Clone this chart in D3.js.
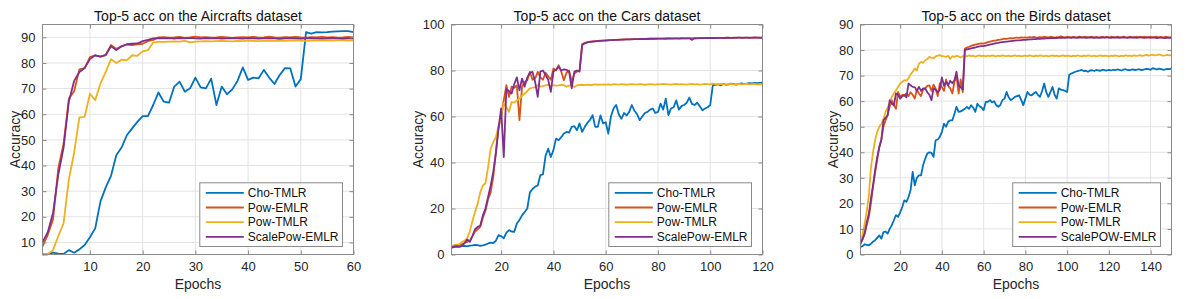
<!DOCTYPE html>
<html>
<head>
<meta charset="utf-8">
<script src="https://cdn.jsdelivr.net/npm/d3@7"></script>
<style>
  body { margin: 0; background: #fff; }
  svg { font-family: "Liberation Sans", Arial, Helvetica, sans-serif; }
</style>
</head>
<body>
<svg width="1196" height="299"></svg>
<script>
// series names + colours (matlab default order)
var seriesNames = ["Cho-TMLR", "Pow-EMLR", "Pow-TMLR", "ScalePow-EMLR"];
var seriesNamesBirds = ["Cho-TMLR", "Pow-EMLR", "Pow-TMLR", "ScalePOW-EMLR"];
var colors = ["#0072BD", "#D95319", "#EDB120", "#7E2F8E"];

// ---- Aircrafts, 60 epochs
var choAir = [
  5.3,5.4,6.0,5.6,5.5,7.0,6.0,7.3,9.0,12.0,
  15.5,26.0,31.5,36.0,44.0,47.0,51.8,54.5,57.0,59.3,
  59.3,63.6,68.5,64.9,64.5,70.8,72.7,68.8,70.1,74.3,
  70.5,70.1,73.9,63.6,70.8,67.8,69.7,73.0,78.3,73.4,
  74.3,74.0,77.3,74.3,71.8,75.3,78.0,77.9,70.8,73.7,
  92.0,91.4,92.0,91.9,92.0,92.2,92.3,92.4,92.4,92.0];
var powEAir = [
  8.5,13.0,19.0,39.0,48.5,66.0,69.0,77.5,78.0,82.3,
  83.0,82.5,83.0,87.0,85.5,86.5,87.2,87.0,87.3,87.5,
  88.5,89.0,90.0,90.1,89.9,90.0,90.2,89.8,90.0,90.3,
  90.0,90.1,89.9,90.0,90.2,90.0,89.8,90.0,90.1,90.0,
  90.2,89.9,90.0,90.3,90.0,89.9,90.1,90.0,90.2,90.0,
  89.9,90.1,90.0,90.2,90.0,90.1,89.9,90.0,90.2,90.0];
var powTAir = [
  5.3,5.5,7.0,12.5,17.5,34.5,45.0,58.8,59.0,68.0,
  65.5,72.0,76.5,81.5,80.0,81.3,81.0,83.0,82.8,84.5,
  85.0,88.0,88.2,88.2,88.3,88.4,88.3,88.6,88.0,88.3,
  88.4,88.5,88.4,88.5,88.6,88.5,88.4,88.6,88.5,88.7,
  88.6,88.5,88.6,88.7,88.6,88.7,88.6,88.7,88.8,88.7,
  88.6,88.7,88.8,88.7,88.8,88.7,88.8,88.8,88.7,88.8];
var scaleAir = [
  10.0,14.0,21.5,36.5,47.0,65.0,73.0,76.5,78.0,81.5,
  83.0,82.5,83.2,86.5,85.0,86.5,87.3,87.5,87.6,88.5,
  89.0,89.6,89.7,89.6,89.7,89.5,89.7,89.6,89.8,89.6,
  89.5,89.7,89.6,89.7,89.5,89.6,89.7,89.6,89.5,89.7,
  89.6,89.5,89.6,89.7,89.6,89.4,89.6,89.7,89.6,89.5,
  89.6,89.7,89.6,89.5,89.6,89.7,89.6,89.5,89.6,89.6];

// ---- Cars, 120 epochs
var choCars = [
  3.0,3.2,3.4,3.3,3.6,3.8,3.5,3.9,4.0,4.2,
  4.1,3.8,4.0,4.3,4.8,5.2,5.0,6.0,8.4,8.0,
  7.0,9.5,10.6,10.0,9.8,13.5,15.0,17.0,18.5,20.0,
  27.0,28.5,29.5,30.0,34.5,34.8,43.0,46.0,42.4,45.4,
  50.4,49.7,51.0,52.6,53.3,53.0,55.5,55.8,54.0,57.0,
  53.3,55.5,57.2,58.5,60.6,55.5,55.5,60.5,57.0,57.5,
  52.6,60.0,63.5,65.0,61.0,59.0,61.5,60.5,62.0,65.0,
  62.5,61.0,58.4,60.0,61.5,62.0,63.0,63.5,61.5,62.0,
  65.6,63.0,67.8,60.6,63.5,64.0,67.0,63.0,64.5,65.0,
  66.0,68.2,65.5,65.0,66.0,64.5,62.7,63.5,64.0,65.0,
  73.6,73.8,74.0,73.5,74.2,73.8,74.0,74.3,74.1,73.9,
  74.2,74.4,74.1,74.3,74.5,74.4,74.6,74.5,74.6,74.7];
var powECars = [
  3.5,4.0,4.2,4.3,4.5,5.0,5.5,6.0,8.0,10.0,
  11.0,12.0,16.0,19.0,24.0,27.0,34.0,45.0,55.0,60.0,
  67.0,73.6,68.5,73.0,72.5,73.5,58.4,73.0,75.0,75.8,
  79.4,76.0,76.5,79.4,77.0,76.0,79.0,77.5,76.0,80.9,
  80.0,82.3,79.5,75.8,79.0,80.0,75.0,78.7,79.5,80.0,
  91.5,92.0,92.3,92.5,92.6,92.8,92.9,93.0,93.0,93.1,
  93.2,93.2,93.3,93.3,93.4,93.4,93.5,93.5,93.5,93.6,
  93.6,93.6,93.7,93.7,93.7,93.8,93.8,93.8,93.9,93.9,
  93.9,93.9,94.0,94.0,94.0,93.9,94.0,94.0,94.1,94.0,
  94.0,94.1,94.1,94.0,94.1,94.1,94.2,94.1,94.1,94.2,
  94.2,94.1,94.2,94.2,94.2,94.3,94.2,94.2,94.3,94.2,
  94.3,94.3,94.2,94.3,94.3,94.2,94.3,94.3,94.2,94.3];
var powTCars = [
  3.5,4.0,4.3,4.5,5.5,6.0,7.0,10.0,14.5,18.5,
  22.0,27.0,30.0,31.0,38.0,46.0,49.0,51.0,56.0,60.0,
  65.6,64.0,62.0,66.3,66.0,67.0,67.8,69.0,70.0,71.0,
  72.2,72.5,72.8,73.6,73.0,73.2,73.5,73.8,73.2,73.6,
  73.4,73.5,73.8,73.6,73.0,73.4,73.6,72.8,73.5,73.7,
  73.8,73.6,73.9,73.7,73.8,74.0,73.8,73.9,74.0,73.9,
  74.0,73.8,74.1,74.0,73.9,74.1,74.0,73.8,74.0,74.1,
  74.0,73.9,74.1,74.0,73.8,74.0,74.1,74.0,73.9,74.1,
  74.0,74.2,74.1,74.0,73.9,74.1,74.2,74.0,74.1,74.0,
  73.9,74.1,74.2,74.0,74.1,73.9,74.0,74.2,74.1,74.0,
  74.3,74.1,74.0,74.2,74.1,73.9,74.1,74.2,74.0,74.1,
  74.2,74.0,74.1,74.2,74.0,74.1,74.2,74.0,74.1,74.0];
var scaleCars = [
  3.0,3.5,3.6,3.5,3.8,5.0,6.5,5.5,8.0,11.0,
  12.0,12.5,17.0,20.0,25.0,30.0,36.0,44.0,55.0,63.5,
  42.4,72.0,71.0,70.0,74.0,77.0,71.4,76.5,73.0,77.0,
  79.0,79.4,75.0,68.5,79.5,80.0,78.0,76.0,70.7,79.5,
  80.5,81.6,80.0,80.5,80.3,79.5,72.2,79.5,80.0,79.5,
  91.0,91.8,92.2,92.4,92.6,92.7,92.8,92.9,93.0,93.0,
  93.1,93.2,93.2,93.3,93.3,93.4,93.4,93.5,93.5,93.5,
  93.6,93.6,93.6,93.7,93.7,93.7,93.8,93.8,93.8,93.9,
  93.9,93.9,93.8,94.0,93.9,94.0,94.0,93.9,94.0,94.0,
  94.0,94.0,93.3,94.1,94.0,94.1,94.1,94.1,94.2,94.1,
  94.2,94.1,94.2,94.2,94.1,94.2,94.3,94.2,94.2,94.3,
  94.3,94.2,94.3,94.3,94.2,94.3,94.4,94.3,94.3,94.3];

// ---- Birds, 150 epochs
var choBirds = [
  3.0,3.3,4.0,3.8,3.6,4.2,5.0,5.6,6.5,7.5,
  6.2,8.8,9.0,8.2,10.0,11.5,13.4,15.4,14.7,16.5,
  18.6,21.2,20.6,22.5,25.2,32.3,27.1,30.0,31.0,31.0,
  35.0,37.5,39.5,40.0,39.8,38.2,44.7,45.0,46.0,48.0,
  51.2,50.0,52.0,52.5,52.5,55.0,57.8,55.8,56.0,56.5,
  57.0,57.8,57.0,58.4,57.5,55.8,59.0,58.0,57.5,56.5,
  59.7,59.7,60.4,59.5,60.0,58.5,57.8,58.5,60.4,61.0,
  63.6,61.5,60.4,61.0,61.7,62.0,62.3,60.5,58.4,61.0,
  63.6,62.5,62.3,63.0,63.6,62.5,61.7,64.0,66.9,63.5,
  61.7,63.5,65.6,62.5,61.0,65.0,64.5,64.3,64.0,63.6,
  70.3,70.8,71.2,71.5,71.8,72.0,72.2,71.8,71.9,71.5,
  72.0,72.1,71.8,72.2,72.0,71.9,72.3,72.1,72.0,72.2,
  72.0,72.3,72.1,72.4,72.2,72.0,72.3,72.5,72.2,72.1,
  72.4,72.3,72.2,72.5,72.3,72.2,72.4,72.6,72.5,72.3,
  72.9,72.6,72.4,72.7,72.5,72.3,72.4,72.6,72.5,72.8];
var powEBirds = [
  4.0,6.0,8.0,11.5,14.7,20.0,26.5,32.0,37.0,42.0,
  45.0,50.0,52.5,54.5,58.0,60.4,58.4,57.0,63.6,61.7,
  62.5,62.3,63.0,62.0,63.5,62.5,61.0,64.5,63.0,62.0,
  64.5,65.0,66.0,66.2,64.0,66.5,65.0,62.0,67.0,65.5,
  64.0,68.5,66.0,65.0,63.0,67.5,70.0,63.0,68.5,63.5,
  80.5,81.0,81.3,81.6,81.9,82.1,82.3,82.5,82.6,82.5,
  82.8,83.1,83.3,83.5,83.7,83.8,84.0,84.1,84.3,84.5,
  84.4,84.6,84.7,84.6,84.8,84.9,84.8,85.0,84.9,85.0,
  84.9,85.1,85.0,85.2,85.0,84.9,85.1,85.0,85.2,85.1,
  85.0,85.2,85.1,84.9,85.1,85.0,85.4,85.1,85.0,85.2,
  85.1,85.0,85.2,85.0,85.1,85.3,85.0,85.1,85.2,85.0,
  85.1,85.2,85.0,85.1,84.9,85.1,85.2,85.0,85.1,85.0,
  85.2,85.1,85.0,85.2,85.1,85.0,85.3,85.1,85.0,85.2,
  85.1,85.0,85.2,85.1,85.0,85.1,85.2,85.0,85.1,85.2,
  85.0,85.1,85.2,85.0,85.1,85.0,85.2,85.1,85.0,85.1];
var powTBirds = [
  3.6,8.0,12.0,17.0,23.0,34.0,40.0,44.7,48.0,50.0,
  51.2,53.0,55.8,57.5,59.0,61.7,63.0,64.3,65.5,66.9,
  67.5,68.2,68.0,68.9,70.5,71.5,72.8,72.0,74.7,75.4,
  75.0,76.0,76.5,77.3,77.0,76.7,77.5,77.8,78.0,77.6,
  77.5,77.3,77.8,76.5,77.6,77.3,77.8,77.5,77.1,77.6,
  77.8,77.5,77.9,77.6,77.8,77.4,77.7,77.9,77.6,77.8,
  77.5,77.8,77.6,77.9,77.7,77.5,77.8,77.6,77.9,77.7,
  77.6,77.8,77.5,77.7,77.9,77.6,77.8,77.5,77.7,77.8,
  77.6,77.9,77.7,77.5,77.8,77.6,77.9,77.7,77.6,77.8,
  77.5,77.7,77.9,77.6,77.8,77.5,77.7,77.9,77.6,77.8,
  77.7,77.5,77.8,77.6,77.9,77.7,77.5,77.8,77.6,77.9,
  77.7,77.6,77.8,77.5,77.7,77.9,77.6,77.8,77.7,77.5,
  77.8,77.6,77.9,77.7,77.5,77.8,77.6,77.9,77.7,77.8,
  77.6,77.9,77.7,77.8,78.0,77.7,77.9,78.1,77.8,78.0,
  78.2,77.9,78.0,78.3,78.0,77.8,77.9,78.1,77.9,78.0];
var scaleBirds = [
  4.5,6.0,8.5,12.5,16.0,22.0,27.0,33.0,38.0,42.0,
  45.0,52.5,53.5,54.5,60.4,59.0,58.4,63.0,62.5,61.0,
  62.0,62.3,61.5,66.9,66.2,65.6,65.5,64.0,65.6,64.0,
  65.0,65.0,63.5,62.5,60.4,65.0,64.5,63.5,64.5,69.3,
  66.0,67.5,66.2,68.0,67.0,68.2,71.5,66.0,65.5,64.5,
  80.1,80.3,80.5,80.7,80.9,81.0,81.2,81.4,81.5,81.5,
  81.7,81.9,82.1,82.3,82.5,82.7,82.8,83.0,83.1,83.2,
  83.3,83.4,83.5,83.6,83.7,83.8,83.8,83.9,84.0,84.0,
  84.1,84.2,84.2,84.3,84.3,84.5,84.4,84.5,84.5,84.6,
  84.6,84.7,84.7,84.8,84.7,84.9,84.8,84.9,84.8,84.9,
  84.9,84.8,85.0,84.9,84.8,85.0,84.9,85.0,84.8,84.9,
  85.0,84.9,84.8,85.0,84.9,84.8,85.0,84.9,85.1,84.9,
  84.8,85.0,84.9,85.0,84.8,84.9,85.0,84.9,84.8,85.0,
  84.9,85.0,84.8,84.9,85.1,84.9,84.8,85.0,84.9,84.8,
  85.0,84.9,84.7,84.9,85.0,84.8,84.7,84.9,84.8,84.8];

// tick values
var airXTicks = [10, 20, 30, 40, 50, 60], airYTicks = [10, 20, 30, 40, 50, 60, 70, 80, 90];
var carsXTicks = [20, 40, 60, 80, 100, 120], carsYTicks = [0, 20, 40, 60, 80, 100];
var birdsXTicks = [20, 40, 60, 80, 100, 120, 140], birdsYTicks = [0, 10, 20, 30, 40, 50, 60, 70, 80, 90];

var svg = d3.select("svg");

var panels = [
  { title: "Top-5 acc on the Aircrafts dataset", left: 42.5, series: [choAir, powEAir, powTAir, scaleAir],
    names: seriesNames, xMax: 60, yDomain: [5.3, 95], xTicks: airXTicks, yTicks: airYTicks, labelX: 15 },
  { title: "Top-5 acc on the Cars dataset", left: 451.5, series: [choCars, powECars, powTCars, scaleCars],
    names: seriesNames, xMax: 120, yDomain: [0, 100], xTicks: carsXTicks, yTicks: carsYTicks, labelX: 418 },
  { title: "Top-5 acc on the Birds dataset", left: 860.5, series: [choBirds, powEBirds, powTBirds, scaleBirds],
    names: seriesNamesBirds, xMax: 150, yDomain: [0, 90], xTicks: birdsXTicks, yTicks: birdsYTicks, labelX: 833 }
];

var plotTop = 24.5, plotH = 230, plotW = 311;

panels.forEach(function(p) {
  var g = svg.append("g").attr("transform", "translate(" + p.left + "," + plotTop + ")");

  var x = d3.scaleLinear().domain([1, p.xMax]).range([0, plotW]);
  var y = d3.scaleLinear().domain(p.yDomain).range([plotH, 0]);

  // grid
  g.append("g").selectAll("line").data(p.xTicks).enter().append("line")
    .attr("x1", function(d) { return x(d); }).attr("x2", function(d) { return x(d); })
    .attr("y1", 0).attr("y2", plotH)
    .attr("stroke", "#e3e3e3").attr("stroke-width", 1);
  g.append("g").selectAll("line").data(p.yTicks).enter().append("line")
    .attr("y1", function(d) { return y(d); }).attr("y2", function(d) { return y(d); })
    .attr("x1", 0).attr("x2", plotW)
    .attr("stroke", "#e3e3e3").attr("stroke-width", 1);

  // lines
  var line = d3.line()
    .x(function(d, i) { return x(i + 1); })
    .y(function(d) { return y(d); });

  p.series.forEach(function(s, k) {
    g.append("path").datum(s)
      .attr("fill", "none")
      .attr("stroke", colors[k])
      .attr("stroke-width", 1.8)
      .attr("stroke-linejoin", "round")
      .attr("d", line);
  });

  // axes, ticks pointing in (matlab style)
  var xAxis = d3.axisBottom(x).tickValues(p.xTicks).tickSizeInner(-4).tickSizeOuter(0).tickPadding(7);
  var yAxis = d3.axisLeft(y).tickValues(p.yTicks).tickSizeInner(-4).tickSizeOuter(0).tickPadding(7);
  var xTop = d3.axisTop(x).tickValues(p.xTicks).tickSizeInner(-4).tickSizeOuter(0).tickFormat("");
  var yRight = d3.axisRight(y).tickValues(p.yTicks).tickSizeInner(-4).tickSizeOuter(0).tickFormat("");

  var gx = g.append("g").attr("transform", "translate(0," + plotH + ")").call(xAxis);
  var gy = g.append("g").call(yAxis);
  g.append("g").call(xTop);
  g.append("g").attr("transform", "translate(" + plotW + ",0)").call(yRight);

  g.selectAll(".domain").remove();
  g.selectAll(".tick line").attr("stroke", "#8a8a8a");
  g.selectAll(".tick text").attr("fill", "#262626").style("font-size", "13px");

  g.append("rect").attr("width", plotW).attr("height", plotH)
    .attr("fill", "none").attr("stroke", "#8a8a8a").attr("stroke-width", 1);

  // titles & labels
  svg.append("text").attr("x", p.left + plotW / 2).attr("y", 20.5)
    .attr("text-anchor", "middle").style("font-size", "14px").attr("fill", "#111")
    .text(p.title);
  svg.append("text").attr("x", p.left + plotW / 2).attr("y", 289)
    .attr("text-anchor", "middle").style("font-size", "14px").attr("fill", "#262626")
    .text("Epochs");
  svg.append("text")
    .attr("transform", "translate(" + (p.labelX + 5) + "," + (plotTop + plotH / 2) + ") rotate(-90)")
    .attr("text-anchor", "middle").style("font-size", "14px").attr("fill", "#262626")
    .text("Accuracy");

  // legend, bottom right
  var leg = g.append("g");
  var legBox = leg.append("rect").attr("fill", "#fff").attr("stroke", "#8a8a8a").attr("stroke-width", 1);
  var items = leg.selectAll("g.item").data(p.names).enter().append("g").attr("class", "item")
    .attr("transform", function(d, i) { return "translate(0," + (i * 14.7) + ")"; });
  items.append("line").attr("x1", 6).attr("x2", 44).attr("y1", 0).attr("y2", 0)
    .attr("stroke", function(d, i) { return colors[i]; }).attr("stroke-width", 1.8);
  var txt = items.append("text").attr("x", 48).attr("y", 0).attr("dy", "0.35em")
    .style("font-size", "12px").attr("fill", "#111").text(function(d) { return d; });
  var maxW = 0;
  txt.each(function() { maxW = Math.max(maxW, this.getComputedTextLength()); });
  var boxW = 48 + maxW + 4, boxH = 63.7;
  legBox.attr("x", 0).attr("y", -10).attr("width", boxW).attr("height", boxH);
  leg.attr("transform", "translate(" + (plotW - 11 - boxW) + "," + (plotH - 8 - boxH + 10) + ")");
});
</script>
</body>
</html>
